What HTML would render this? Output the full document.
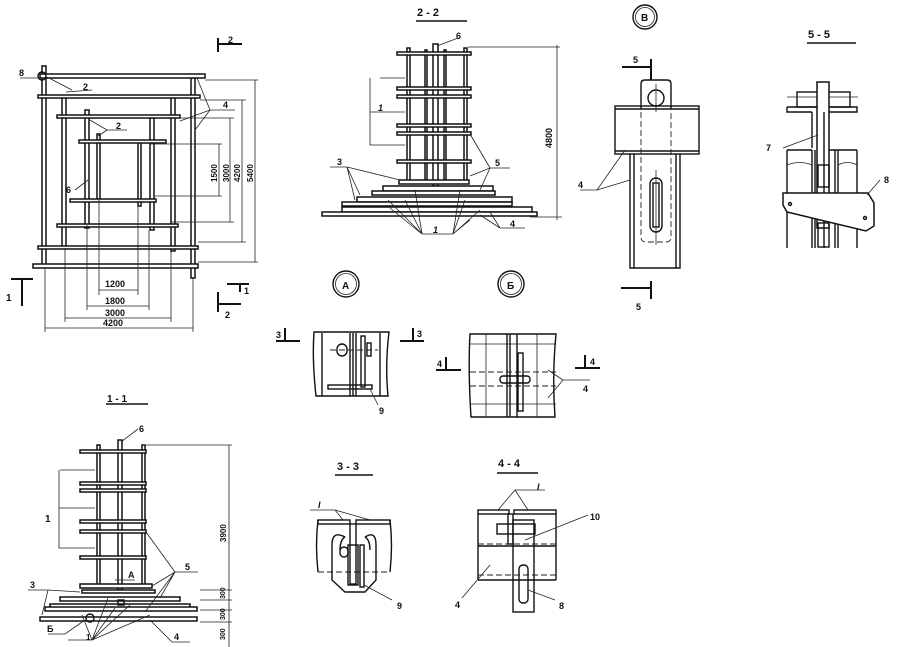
<!DOCTYPE html>
<html><head><meta charset="utf-8"><style>
html,body{margin:0;padding:0;background:#fff;width:897px;height:647px;overflow:hidden}
svg{display:block}
text{font-family:"Liberation Sans","DejaVu Sans",sans-serif;font-weight:bold;fill:#111}
.b{fill:#fff;stroke:#111;stroke-width:1.5}
.l{stroke:#111;stroke-width:1.4;fill:none}
.t{stroke:#222;stroke-width:0.8;fill:none}
.d{stroke:#222;stroke-width:0.9;fill:none;stroke-dasharray:6 3}
.h{stroke:#111;stroke-width:2;fill:none}
</style></head><body>
<svg width="897" height="647" viewBox="0 0 897 647" xmlns="http://www.w3.org/2000/svg">
<!-- ===== PLAN VIEW ===== -->
<g>
<rect class="b" x="42" y="66" width="4" height="200"/>
<rect class="b" x="191" y="78" width="4" height="200"/>
<rect class="b" x="40" y="74" width="165" height="4"/>
<rect class="b" x="33" y="264" width="165" height="4"/>
<rect class="b" x="62" y="96" width="4" height="152"/>
<rect class="b" x="171" y="96" width="4" height="155"/>
<rect class="b" x="38" y="95" width="162" height="3"/>
<rect class="b" x="38" y="246" width="160" height="3"/>
<rect class="b" x="85" y="110" width="4" height="118"/>
<rect class="b" x="150" y="118" width="4" height="112"/>
<rect class="b" x="57" y="115" width="123" height="3"/>
<rect class="b" x="57" y="224" width="121" height="3"/>
<rect class="b" x="97" y="134" width="3" height="65"/>
<rect class="b" x="138" y="142" width="3" height="64"/>
<rect class="b" x="79" y="140" width="87" height="3"/>
<rect class="b" x="70" y="199" width="86" height="3"/>
<circle class="l" cx="42" cy="76" r="4"/>
<line class="t" x1="20" y1="78" x2="40" y2="78"/>
<text x="19" y="76" font-size="9">8</text>
<line class="t" x1="47" y1="77" x2="72" y2="90"/><line class="t" x1="66" y1="92" x2="92" y2="90"/>
<text x="83" y="90" font-size="9">2</text>
<line class="t" x1="197" y1="78" x2="210" y2="110"/><line class="t" x1="195" y1="130" x2="210" y2="110"/><line class="t" x1="180" y1="121" x2="210" y2="110"/><line class="t" x1="210" y1="110" x2="235" y2="110"/>
<text x="223" y="108" font-size="9">4</text>
<line class="t" x1="90" y1="120" x2="107" y2="130"/><line class="t" x1="98" y1="136" x2="107" y2="130"/><line class="t" x1="107" y1="130" x2="127" y2="130"/>
<text x="116" y="129" font-size="9">2</text>
<line class="t" x1="75" y1="190" x2="88" y2="180"/>
<text x="66" y="193" font-size="9">6</text>
<g class="t">
<line x1="99" y1="200" x2="99" y2="295"/><line x1="138" y1="205" x2="138" y2="295"/>
<line x1="87" y1="225" x2="87" y2="310"/><line x1="149" y1="230" x2="149" y2="310"/>
<line x1="65" y1="248" x2="65" y2="322"/><line x1="171" y1="250" x2="171" y2="322"/>
<line x1="45" y1="268" x2="45" y2="332"/><line x1="193" y1="278" x2="193" y2="332"/>
<line x1="99" y1="290" x2="138" y2="290"/><line x1="87" y1="306" x2="149" y2="306"/>
<line x1="65" y1="318" x2="171" y2="318"/><line x1="45" y1="328" x2="193" y2="328"/>
<line x1="150" y1="144" x2="222" y2="144"/><line x1="155" y1="196" x2="222" y2="196"/>
<line x1="180" y1="118" x2="234" y2="118"/><line x1="170" y1="222" x2="234" y2="222"/>
<line x1="200" y1="100" x2="246" y2="100"/><line x1="198" y1="242" x2="246" y2="242"/>
<line x1="205" y1="80" x2="258" y2="80"/><line x1="198" y1="262" x2="258" y2="262"/>
<line x1="219" y1="144" x2="219" y2="196"/><line x1="230" y1="118" x2="230" y2="222"/>
<line x1="242" y1="100" x2="242" y2="242"/><line x1="255" y1="80" x2="255" y2="262"/>
</g>
<text x="105" y="287" font-size="9">1200</text>
<text x="105" y="304" font-size="9">1800</text>
<text x="105" y="316" font-size="9">3000</text>
<text x="103" y="326" font-size="9">4200</text>
<text transform="translate(217,182) rotate(-90)" font-size="8">1500</text>
<text transform="translate(229,182) rotate(-90)" font-size="8">3000</text>
<text transform="translate(240,182) rotate(-90)" font-size="8">4200</text>
<text transform="translate(253,182) rotate(-90)" font-size="8">5400</text>
<path class="h" d="M218 38 V52 M218 44 H242"/><text x="228" y="43" font-size="9">2</text>
<path class="h" d="M11 279 H33 M22 279 V306"/><text x="6" y="301" font-size="10">1</text>
<path class="h" d="M227 284 H249 M240 284 V292"/><text x="244" y="294" font-size="9">1</text>
<path class="h" d="M218 292 V312 M218 304 H241"/><text x="225" y="318" font-size="9">2</text>
</g>

<!-- ===== 2-2 ===== -->
<g>
<text x="417" y="16" font-size="11">2 - 2</text>
<line class="l" x1="416" y1="21" x2="467" y2="21"/>
<rect class="b" x="407" y="48" width="3" height="135"/>
<rect class="b" x="425" y="50" width="2" height="133"/>
<rect class="b" x="444" y="50" width="2" height="133"/>
<rect class="b" x="464" y="48" width="3" height="135"/>
<rect class="b" x="433" y="44" width="5" height="142"/>
<g>
<rect class="b" x="397" y="52" width="74" height="3"/>
<rect class="b" x="397" y="87" width="74" height="3"/>
<rect class="b" x="397" y="95" width="74" height="3"/>
<rect class="b" x="397" y="124" width="74" height="3"/>
<rect class="b" x="397" y="132" width="74" height="3"/>
<rect class="b" x="397" y="160" width="74" height="3"/>
<rect class="b" x="399" y="180" width="70" height="4"/>
<rect class="b" x="383" y="186" width="110" height="5"/>
<rect class="b" x="372" y="191" width="123" height="4"/>
<rect class="b" x="357" y="197" width="155" height="5"/>
<rect class="b" x="342" y="202" width="170" height="4"/>
<rect class="b" x="342" y="207" width="190" height="5"/>
<rect class="b" x="322" y="212" width="215" height="4"/>
</g>
<path class="t" d="M380 78 H405 M370 78 V145 H405 M370 112 H405"/>
<text x="378" y="111" font-size="9" font-style="italic">1</text>
<line class="t" x1="437" y1="46" x2="458" y2="38"/><text x="456" y="39" font-size="9">6</text>
<path class="t" d="M330 167 H347 M347 167 L400 180 M347 167 L360 195 M347 167 L355 200"/>
<text x="337" y="165" font-size="9">3</text>
<path class="t" d="M490 168 H510 M490 168 L470 134 M490 168 L470 176 M490 168 L480 190"/>
<text x="495" y="166" font-size="9">5</text>
<path class="t" d="M422 234 H453 M422 234 L388 200 M422 234 L390 208 M422 234 L415 190 M422 234 L405 200 M453 234 L460 190 M453 234 L465 200 M453 234 L480 210 M453 234 L470 220"/>
<text x="433" y="233" font-size="9" font-style="italic">1</text>
<path class="t" d="M500 228 H525 M500 228 L490 212 M500 228 L480 215"/>
<text x="510" y="227" font-size="9">4</text>
<path class="t" d="M468 47 H560 M530 217 H562 M557 45 V220"/>
<text transform="translate(552,148) rotate(-90)" font-size="9">4800</text>
</g>

<!-- ===== B detail ===== -->
<g>
<circle class="l" cx="645" cy="17" r="12"/><circle class="t" cx="645" cy="17" r="9.5"/>
<text x="641" y="21" font-size="10">В</text>
<path class="h" d="M622 67 H651 M651 59 V80"/><text x="633" y="63" font-size="9">5</text>
<path class="h" d="M621 288 H651 M651 281 V299"/><text x="636" y="310" font-size="9">5</text>
<path class="l" d="M641 109 V84 Q641 80 645 80 H667 Q671 80 671 84 V109"/>
<circle class="l" cx="656" cy="98" r="8"/>
<line class="t" x1="656" y1="84" x2="656" y2="112"/>
<rect class="l" x="615" y="106" width="84" height="48"/>
<line class="l" x1="615" y1="109" x2="699" y2="109"/><line class="l" x1="615" y1="151" x2="699" y2="151"/>
<path class="l" d="M630 154 V268 H680 V154 M634 154 V268 M676 154 V268"/>
<path class="d" d="M641 112 V237 Q641 242 646 242 H666 Q671 242 671 237 V112"/>
<rect class="l" x="650" y="178" width="12" height="54" rx="6"/>
<rect class="l" x="653" y="183" width="6" height="44"/>
<line class="t" x1="656" y1="170" x2="656" y2="245"/>
<path class="t" d="M580 190 H597 L625 150 M597 190 L630 180"/>
<text x="578" y="188" font-size="9">4</text>
</g>

<!-- ===== 5-5 ===== -->
<g>
<text x="808" y="38" font-size="11">5 - 5</text>
<line class="l" x1="807" y1="43" x2="856" y2="43"/>
<rect class="l" x="797" y="92" width="53" height="15"/>
<line class="t" x1="787" y1="97" x2="858" y2="97"/>
<path class="l" d="M787 107 H857 V112 H824 M787 107 V112 H812"/>
<path class="l" d="M812 112 V148 M826 112 V148 M787 150 H812 M826 150 H857"/>
<rect class="b" x="817" y="82" width="12" height="146"/>
<path class="l" d="M787 150 V248 M857 150 V248 M812 150 V248 M815 150 V248 M835 150 V248 M838 150 V248 M824 112 V248"/>
<path class="t" d="M787 165 Q800 160 812 165 M838 165 Q848 160 857 165"/>
<rect class="l" x="818" y="165" width="11" height="22" fill="#ddd"/>
<rect class="l" x="818" y="223" width="11" height="24" fill="#ddd"/>
<path class="b" d="M783 193 H868 L874 203 V226 L866 231 L787 212 L783 205 Z"/>
<circle class="l" cx="790" cy="204" r="1.5"/><circle class="l" cx="865" cy="218" r="1.5"/>
<line class="t" x1="783" y1="148" x2="818" y2="135"/><text x="766" y="151" font-size="9">7</text>
<line class="t" x1="867" y1="195" x2="880" y2="180"/><text x="884" y="183" font-size="9">8</text>
</g>

<!-- ===== A ===== -->
<g>
<circle class="l" cx="346" cy="284" r="13"/><circle class="t" cx="346" cy="284" r="10.5"/>
<text x="342" y="289" font-size="10">А</text>
<path class="h" d="M276 341 H300 M285 328 V341"/><text x="276" y="338" font-size="9">3</text>
<path class="h" d="M400 341 H424 M413 328 V341"/><text x="417" y="337" font-size="9">3</text>
<path class="l" d="M314 332 Q312 360 316 396 H388 Q385 365 389 332 Z"/>
<path class="l" d="M322 333 V396 M380 333 V396 M350 333 V396 M353 333 V396 M356 333 V396"/>
<rect class="l" x="337" y="344" width="10" height="12" rx="5"/>
<rect class="l" x="361" y="336" width="4" height="51"/>
<rect class="l" x="367" y="343" width="4" height="13"/>
<line class="d" x1="330" y1="350" x2="378" y2="350"/>
<rect class="l" x="328" y="385" width="44" height="4"/>
<line class="t" x1="370" y1="389" x2="378" y2="405"/><text x="379" y="414" font-size="9">9</text>
</g>

<!-- ===== Б ===== -->
<g>
<circle class="l" cx="511" cy="284" r="13"/><circle class="t" cx="511" cy="284" r="10.5"/>
<text x="507" y="289" font-size="10">Б</text>
<path class="h" d="M436 370 H461 M446 357 V370"/><text x="437" y="367" font-size="9">4</text>
<path class="h" d="M575 368 H600 M585 355 V368"/><text x="590" y="365" font-size="9">4</text>
<path class="l" d="M470 334 Q468 370 471 417 H555 Q552 375 556 334 Z"/>
<path class="t" d="M470 344 H556 M470 404 H556 M486 334 V417 M537 334 V417"/>
<path class="l" d="M507 334 V417 M510 334 V417 M517 334 V417"/>
<path class="d" d="M470 372 H556 M470 386 H556"/>
<rect class="l" x="518" y="353" width="5" height="58"/>
<rect class="l" x="500" y="376" width="30" height="7" rx="3"/>
<path class="t" d="M563 380 H590 M563 380 L548 370 M563 380 L548 398"/>
<text x="583" y="392" font-size="9">4</text>
</g>

<!-- ===== 3-3 ===== -->
<g>
<text x="337" y="470" font-size="11">3 - 3</text>
<line class="l" x1="335" y1="475" x2="373" y2="475"/>
<path class="t" d="M310 510 H335 L343 520 M335 510 L370 520"/>
<text x="318" y="508" font-size="9" font-style="italic">I</text>
<rect class="l" x="318" y="520" width="32" height="4" fill="#bbb"/>
<rect class="l" x="356" y="520" width="34" height="4" fill="#bbb"/>
<path class="l" d="M318 520 Q315 545 318 572 M390 520 Q393 545 390 572"/>
<line class="d" x1="318" y1="572" x2="390" y2="572"/>
<path class="l" d="M345 537 Q332 530 332 545 V580 L345 592 H365 L376 580 V545 Q376 530 365 537"/>
<path class="l" d="M345 537 Q340 540 340 550 M365 537 Q370 540 370 550"/>
<rect class="l" x="350" y="524" width="6" height="60"/>
<rect class="l" x="348" y="545" width="10" height="40"/>
<rect class="l" x="360" y="545" width="4" height="42"/>
<rect class="l" x="340" y="547" width="8" height="10" rx="4"/>
<line class="t" x1="364" y1="585" x2="392" y2="600"/><text x="397" y="609" font-size="9">9</text>
</g>

<!-- ===== 4-4 ===== -->
<g>
<text x="498" y="467" font-size="11">4 - 4</text>
<line class="l" x1="497" y1="473" x2="538" y2="473"/>
<path class="t" d="M515 490 H545 M515 490 L498 510 M515 490 L528 510"/>
<text x="537" y="490" font-size="9" font-style="italic">I</text>
<rect class="l" x="478" y="510" width="31" height="4" fill="#bbb"/>
<rect class="l" x="514" y="510" width="42" height="4" fill="#bbb"/>
<path class="l" d="M478 514 V580 M556 514 V580 M478 546 H556 M478 580 H556"/>
<line class="d" x1="478" y1="544" x2="556" y2="544"/>
<line class="d" x1="478" y1="575" x2="556" y2="575"/>
<rect class="l" x="508" y="514" width="5" height="30" fill="#ccc"/>
<rect class="l" x="513" y="520" width="21" height="92"/>
<rect class="l" x="497" y="524" width="38" height="10"/>
<rect class="l" x="519" y="565" width="9" height="38" rx="4"/>
<path class="t" d="M525 540 L588 515 M462 598 L490 565 M528 590 L555 600"/>
<text x="590" y="520" font-size="9">10</text>
<text x="455" y="608" font-size="9">4</text>
<text x="559" y="609" font-size="9">8</text>
</g>

<!-- ===== 1-1 ===== -->
<g>
<text x="107" y="402" font-size="10">1 - 1</text>
<line class="l" x1="106" y1="404" x2="148" y2="404"/>
<rect class="b" x="97" y="445" width="3" height="142"/>
<rect class="b" x="142" y="445" width="3" height="142"/>
<rect class="b" x="118" y="440" width="4" height="150"/>
<rect class="b" x="80" y="450" width="66" height="3"/>
<rect class="b" x="80" y="482" width="66" height="3"/>
<rect class="b" x="80" y="489" width="66" height="3"/>
<rect class="b" x="80" y="520" width="66" height="3"/>
<rect class="b" x="80" y="530" width="66" height="3"/>
<rect class="b" x="80" y="556" width="66" height="3"/>
<rect class="b" x="80" y="584" width="72" height="4"/>
<rect class="b" x="82" y="590" width="73" height="3"/>
<rect class="b" x="60" y="597" width="120" height="4"/>
<rect class="b" x="50" y="604" width="140" height="4"/>
<rect class="b" x="45" y="607" width="152" height="4"/>
<rect class="b" x="40" y="617" width="157" height="4"/>
<rect class="l" x="118" y="600" width="6" height="5"/>
<circle class="l" cx="90" cy="618" r="4"/>
<path class="t" d="M60 470 H95 M59 470 V548 H95 M59 508 H95"/>
<text x="45" y="522" font-size="10">1</text>
<line class="t" x1="121" y1="442" x2="138" y2="429"/><text x="139" y="432" font-size="9">6</text>
<path class="t" d="M175 572 H198 M175 572 L146 532 M175 572 L152 586 M175 572 L160 598 M175 572 L145 612"/>
<text x="185" y="570" font-size="9">5</text>
<path class="t" d="M28 590 H48 L80 592 M48 590 L42 615"/>
<text x="30" y="588" font-size="9">3</text>
<path class="t" d="M115 580 H135"/><text x="128" y="578" font-size="9">А</text>
<path class="t" d="M48 634 H65 L85 620"/><text x="47" y="632" font-size="9">Б</text>
<path class="t" d="M68 640 H92 L82 615 M92 640 L108 598 M92 640 L115 608 M92 640 L130 605 M92 640 L150 615"/>
<text x="86" y="640" font-size="8">1</text>
<path class="t" d="M150 620 L172 642 H190"/><text x="174" y="640" font-size="9">4</text>
<path class="t" d="M146 445 H232 M229 445 V647 M200 590 H232 M200 600 H232 M200 610 H232 M200 622 H232"/>
<text transform="translate(226,542) rotate(-90)" font-size="8">3900</text>
<text transform="translate(225,599) rotate(-90)" font-size="7">300</text>
<text transform="translate(225,620) rotate(-90)" font-size="7">300</text>
<text transform="translate(225,640) rotate(-90)" font-size="7">300</text>
</g>
</svg>
</body></html>
